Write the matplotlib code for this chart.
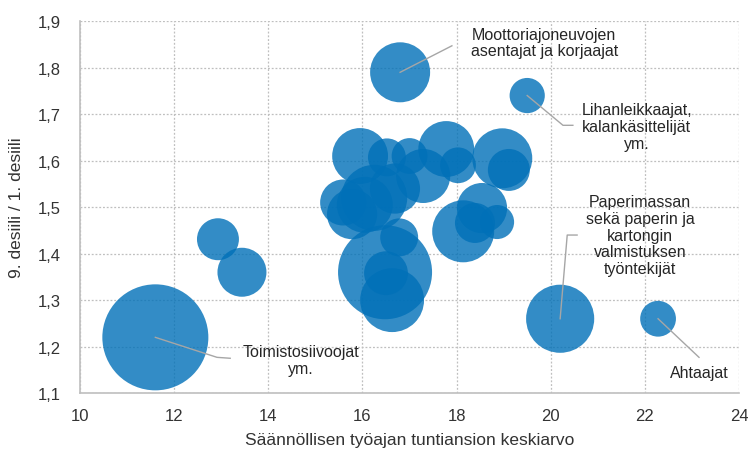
import matplotlib.pyplot as plt

plt.rcParams['font.family'] = ['Liberation Sans', 'DejaVu Sans']

# keskituntiansio, desiilisuhde ja ammattiryhmän koko (suhteellinen)
ansio = [11.6, 12.93, 13.44, 16.8, 19.5, 20.2, 22.28,
         16.48, 16.63, 16.5, 16.78, 15.95, 16.52, 16.25, 15.59, 15.78,
         17.78, 18.03, 18.97, 19.11, 18.54, 18.14, 18.86, 18.39, 17.29,
         17.0, 16.69, 16.05]
desiilisuhde = [1.22, 1.431, 1.36, 1.79, 1.74, 1.26, 1.26,
                1.36, 1.30, 1.358, 1.435, 1.61, 1.607, 1.52, 1.51, 1.485,
                1.625, 1.59, 1.605, 1.58, 1.498, 1.448, 1.468, 1.466, 1.567,
                1.61, 1.54, 1.505]
koko = [28.1, 4.4, 6.0, 9.0, 3.1, 11.6, 3.2,
        22.1, 10.2, 4.8, 3.6, 7.8, 3.6, 10.9, 5.3, 6.3,
        7.8, 3.2, 9.0, 4.4, 6.3, 9.6, 2.9, 4.0, 7.3,
        3.2, 6.3, 7.8]

nimet = ["Toimistosiivoojat\nym.",
         "Moottoriajoneuvojen\nasentajat ja korjaajat",
         "Lihanleikkaajat,\nkalankäsittelijät\nym.",
         "Paperimassan\nsekä paperin ja\nkartongin\nvalmistuksen\ntyöntekijät",
         "Ahtaajat"]
nimi_idx = [0, 3, 4, 5, 6]

xticks = [10, 12, 14, 16, 18, 20, 22, 24]
yticks = [1.1, 1.2, 1.3, 1.4, 1.5, 1.6, 1.7, 1.8, 1.9]

fig = plt.figure(figsize=(7.48, 4.52), dpi=100)
ax = fig.add_axes([0.107, 0.128, 0.881, 0.823])

ax.scatter(ansio, desiilisuhde, s=[k * 207.36 for k in koko],
           color='#0070B8', alpha=0.8, edgecolors='none', zorder=3)

ax.set_xlim(10, 24)
ax.set_ylim(1.1, 1.9)
ax.set_xticks(xticks)
ax.set_yticks(yticks)
ax.set_xticklabels([str(t) for t in xticks])
ax.set_yticklabels([f"{t:.1f}".replace('.', ',') for t in yticks])
ax.tick_params(length=0, labelsize=12, colors='#333333')
ax.tick_params(axis='y', pad=14)
ax.tick_params(axis='x', pad=11)
ax.grid(True, color='#bfbfbf', linestyle=(0, (1.5, 1.5)), linewidth=0.9, zorder=0)
for s in ['top', 'right']:
    ax.spines[s].set_visible(False)
for s in ['left', 'bottom']:
    ax.spines[s].set_color('#bfbfbf')
    ax.spines[s].set_linewidth(1.2)

ax.set_xlabel("Säännöllisen työajan tuntiansion keskiarvo", fontsize=12.5, color='#333333', labelpad=6)
ax.set_ylabel("9. desiili / 1. desiili", fontsize=12.5, color='#333333', labelpad=10)

# selitetekstit ja viivat (pisteestä tekstiin)
tekstipaikat = [(14.7, 1.171), (19.86, 1.854), (21.83, 1.673), (21.9, 1.44), (23.15, 1.145)]
viivat = [[(12.91, 1.177), (13.19, 1.175)],
          [(17.9, 1.847)],
          [(20.26, 1.676), (20.47, 1.676)],
          [(20.35, 1.44), (20.56, 1.44)],
          [(23.15, 1.177)]]
for i, nimi, (tx, ty), v in zip(nimi_idx, nimet, tekstipaikat, viivat):
    xs = [ansio[i]] + [p[0] for p in v]
    ys = [desiilisuhde[i]] + [p[1] for p in v]
    ax.plot(xs, ys, color='#a6a6a6', linewidth=1, zorder=4)
    ax.text(tx, ty, nimi, ha='center', va='center', fontsize=11.5,
            color='#262626', linespacing=1.15, zorder=5)

fig.savefig("out.png", dpi=100)
